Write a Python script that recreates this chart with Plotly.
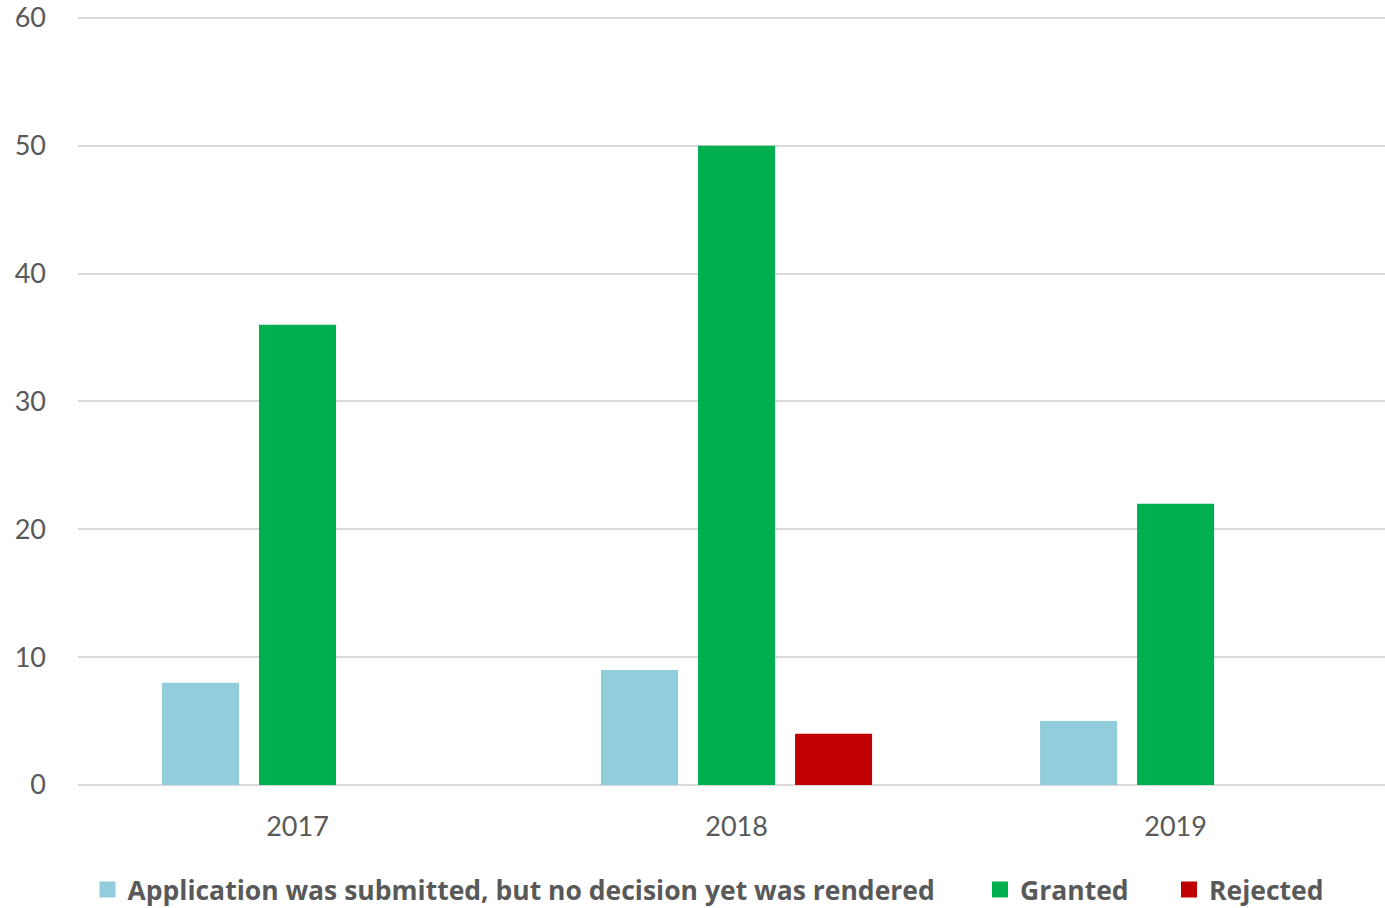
import plotly.graph_objects as go

years = ["2017", "2018", "2019"]
pending = [8, 9, 5]
granted = [36, 50, 22]
rejected = [None, 4, None]

series_names = ["Application was submitted, but no decision yet was rendered", "Granted", "Rejected"]
colors = ["#92CDDC", "#00B050", "#C00000"]
y_ticks = [0, 10, 20, 30, 40, 50, 60]

# legend positions (container fraction) for each entry
legend_x = [87.5 / 1385, 980 / 1385, 1169 / 1385]

fig = go.Figure()
legends = ["legend", "legend2", "legend3"]
for name, vals, c in zip(series_names, [pending, granted, rejected], colors):
    fig.add_trace(go.Bar(x=years, y=vals, name=name, showlegend=False,
                         marker=dict(color=c, line=dict(width=0))))
for name, c, lg in zip(series_names, colors, legends):
    fig.add_trace(go.Scatter(x=[None], y=[None], mode="markers", name=name, legend=lg,
                             marker=dict(symbol="square", size=18, color=c)))

font_family = "Lato, Open Sans, sans-serif"
leg_common = dict(orientation="h", xref="container", yref="container", xanchor="left",
                  y=0.02, yanchor="middle",
                  font=dict(size=26.5, color="#595959", weight="bold", family="Open Sans, sans-serif"),
                  itemwidth=30, bgcolor="rgba(0,0,0,0)", borderwidth=0, itemsizing="trace")
fig.update_layout(
    width=1385, height=908,
    margin=dict(l=78, r=0, t=3, b=123),
    plot_bgcolor="white", paper_bgcolor="white",
    barmode="group", bargap=0.337, bargroupgap=0.206,
    font=dict(family=font_family, color="#595959", size=27),
    xaxis=dict(type="category", range=[-0.5, 2.477], showgrid=False, showline=False,
               ticks="", tickfont=dict(size=27, color="#595959"), ticklabelstandoff=23),
    yaxis=dict(range=[0, 61.01], tickvals=y_ticks, showgrid=True, gridcolor="#D9D9D9", gridwidth=1.5,
               zeroline=True, zerolinecolor="#D9D9D9", zerolinewidth=1.5, showline=False,
               ticks="", tickfont=dict(size=27, color="#595959"), ticklabelstandoff=31,
               ticklabeloverflow="allow"),
    legend=dict(x=legend_x[0], **leg_common),
    legend2=dict(x=legend_x[1], **leg_common),
    legend3=dict(x=legend_x[2], **leg_common),
    showlegend=True,
)
fig.write_html("out.html")
